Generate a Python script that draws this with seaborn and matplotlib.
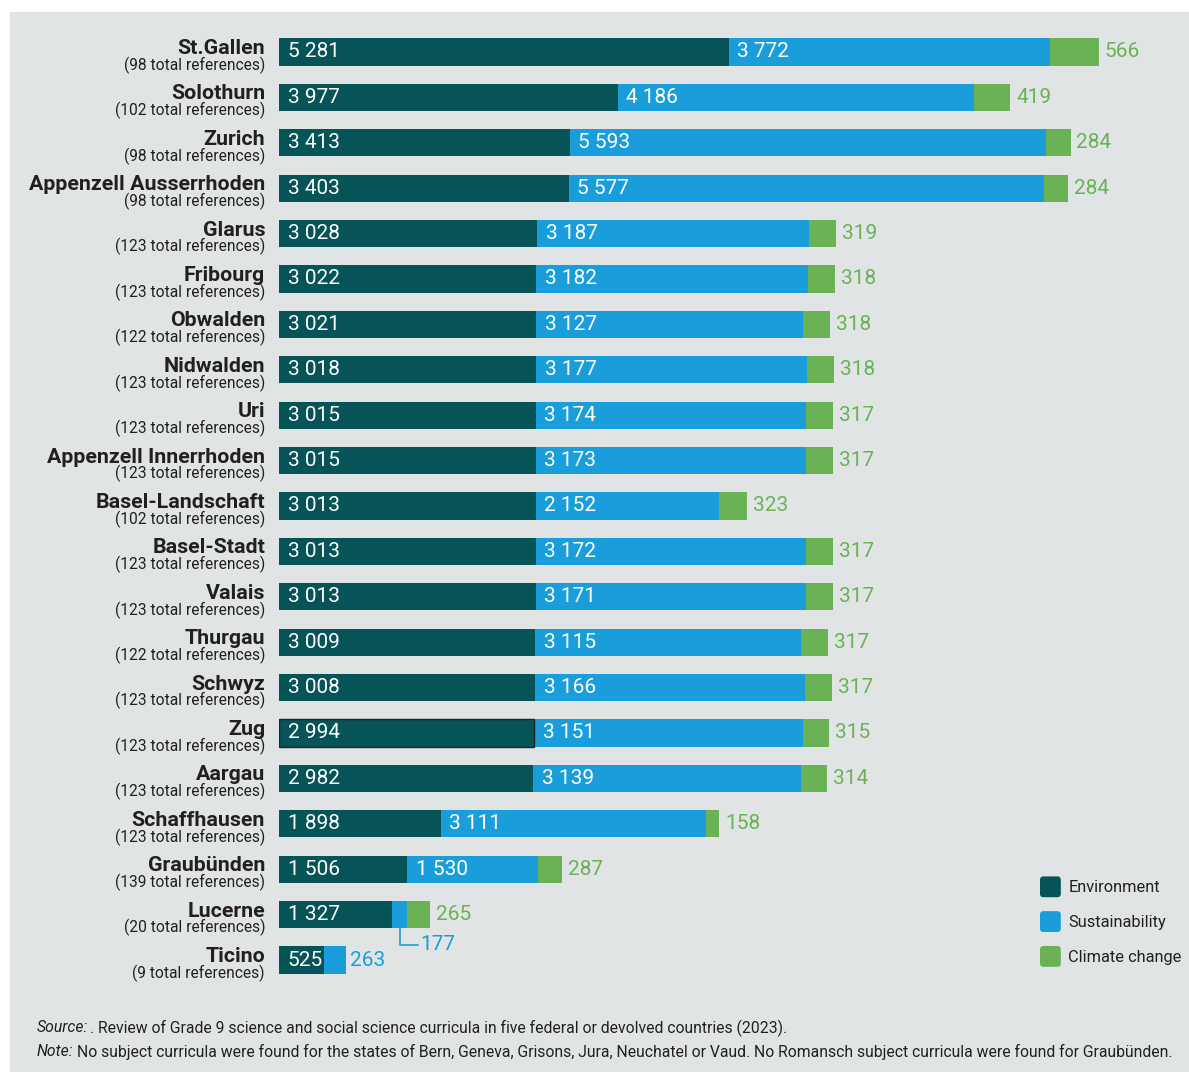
import matplotlib
matplotlib.use("Agg")
import matplotlib.pyplot as plt
import matplotlib.patches as mpatches
from matplotlib.legend_handler import HandlerPatch
import seaborn as sns
import pandas as pd
import numpy as np

cantons = ["St.Gallen", "Solothurn", "Zurich", "Appenzell Ausserrhoden", "Glarus",
           "Fribourg", "Obwalden", "Nidwalden", "Uri", "Appenzell Innerrhoden",
           "Basel-Landschaft", "Basel-Stadt", "Valais", "Thurgau", "Schwyz", "Zug",
           "Aargau", "Schaffhausen", "Graubünden", "Lucerne", "Ticino"]
total_refs = [98, 102, 98, 98, 123, 123, 122, 123, 123, 123,
              102, 123, 123, 122, 123, 123, 123, 123, 139, 20, 9]
environment = [5281, 3977, 3413, 3403, 3028, 3022, 3021, 3018, 3015, 3015,
               3013, 3013, 3013, 3009, 3008, 2994, 2982, 1898, 1506, 1327, 525]
sustainability = [3772, 4186, 5593, 5577, 3187, 3182, 3127, 3177, 3174, 3173,
                  2152, 3172, 3171, 3115, 3166, 3151, 3139, 3111, 1530, 177, 263]
climate = [566, 419, 284, 284, 319, 318, 318, 318, 317, 317,
           323, 317, 317, 317, 317, 315, 314, 158, 287, 265, 0]

series = ["Environment", "Sustainability", "Climate change"]
colors = {"Environment": "#065457", "Sustainability": "#199edb", "Climate change": "#6ab254"}
BG = "#e1e4e5"
TXT = "#231f20"

sns.set_theme(style="white")
plt.rcParams["font.family"] = ["Roboto", "DejaVu Sans"]

df = pd.DataFrame({"canton": cantons, "refs": total_refs, "Environment": environment,
                   "Sustainability": sustainability, "Climate change": climate})
df["pos"] = np.arange(len(df))

fig = plt.figure(figsize=(11.89, 10.72), dpi=100)
fig.patches.append(mpatches.Rectangle((10 / 1189, 0), 1, 1 - 12 / 1072,
                                      transform=fig.transFigure, color=BG, zorder=-5))
ax = fig.add_axes([279 / 1189, 0.0833, 852 / 1189, 0.8894])
ax.set_facecolor("none")

# stacked bars: draw cumulative totals back to front
cum = df[series].cumsum(axis=1)
for k, s in enumerate(series):
    sns.barplot(x=cum[s], y=df["pos"], orient="h", color=colors[s], ax=ax, saturation=1,
                width=0.6, linewidth=0, native_scale=True, zorder=3 - k)

# zug env outline
zi = cantons.index("Zug")
ax.add_patch(mpatches.Rectangle((0, zi - 0.3), environment[zi], 0.6, fill=False,
                                edgecolor="#222222", linewidth=1.0, zorder=5))

ax.set_xlim(0, 10000)
ax.set_ylim(len(df) - 0.5, -0.5)
ax.axis("off")


def fmt(v):
    return f"{v:,}".replace(",", " ")


for i, row in df.iterrows():
    e, su, c = row["Environment"], row["Sustainability"], row["Climate change"]
    ax.text(100, i, fmt(e), color="white", va="center", ha="left", fontsize=15, zorder=6)
    if su > 1000:
        ax.text(e + 100, i, fmt(su), color="white", va="center", ha="left", fontsize=15, zorder=6)
    elif c == 0:
        ax.text(e + su + 50, i, fmt(su), color=colors["Sustainability"], va="center",
                ha="left", fontsize=15)
    else:
        xm = e + su / 2
        ax.plot([xm, xm, xm + 220], [i + 0.3, i + 0.66, i + 0.66],
                color=colors["Sustainability"], lw=1.2)
        ax.text(xm + 240, i + 0.66, fmt(su), color=colors["Sustainability"], va="center",
                ha="left", fontsize=15)
    if c > 0:
        ax.text(e + su + c + 70, i, fmt(c), color=colors["Climate change"], va="center",
                ha="left", fontsize=15)
    ax.annotate(row["canton"], xy=(0, i), xycoords=("axes fraction", "data"),
                xytext=(-14, -2), textcoords="offset pixels", ha="right", va="baseline",
                fontsize=15.4, fontweight="bold", color=TXT)
    ax.annotate(f"({row['refs']} total references)", xy=(0, i), xycoords=("axes fraction", "data"),
                xytext=(-14, -18), textcoords="offset pixels", ha="right", va="baseline",
                fontsize=11.2, color=TXT)


class RoundedSquare(HandlerPatch):
    def create_artists(self, legend, orig_handle, xdescent, ydescent, width, height,
                       fontsize, trans):
        side = width
        cy = -ydescent + height / 2
        p = mpatches.FancyBboxPatch((-xdescent, cy - side / 2), side, side,
                                    boxstyle="round,pad=0,rounding_size=2.5",
                                    facecolor=orig_handle.get_facecolor(), edgecolor="none",
                                    transform=trans)
        return [p]


handles = [mpatches.Patch(facecolor=colors[s], label=s) for s in series]
fig.legend(handles=handles, loc="lower left", bbox_to_anchor=(1040 / 1189, 1 - 965 / 1072),
           frameon=False, handlelength=1.27, handleheight=1.0, handletextpad=0.45,
           labelspacing=1.15, fontsize=11.8, labelcolor=TXT, borderpad=0, borderaxespad=0,
           handler_map={mpatches.Patch: RoundedSquare()})

fig.text(37 / 1189, 1 - 1028 / 1072, "Source:", style="italic", fontsize=11.3,
         color=TXT, va="center")
fig.text(90 / 1189, 1 - 1028 / 1072,
         ". Review of Grade 9 science and social science curricula in five federal or devolved countries (2023).",
         fontsize=11.3, color=TXT, va="center")
fig.text(37 / 1189, 1 - 1052 / 1072, "Note:", style="italic", fontsize=11.3,
         color=TXT, va="center")
fig.text(77 / 1189, 1 - 1052 / 1072,
         "No subject curricula were found for the states of Bern, Geneva, Grisons, Jura, Neuchatel or Vaud. No Romansch subject curricula were found for Graubünden.",
         fontsize=11.3, color=TXT, va="center")

fig.savefig("out.png", dpi=100, facecolor="white")
